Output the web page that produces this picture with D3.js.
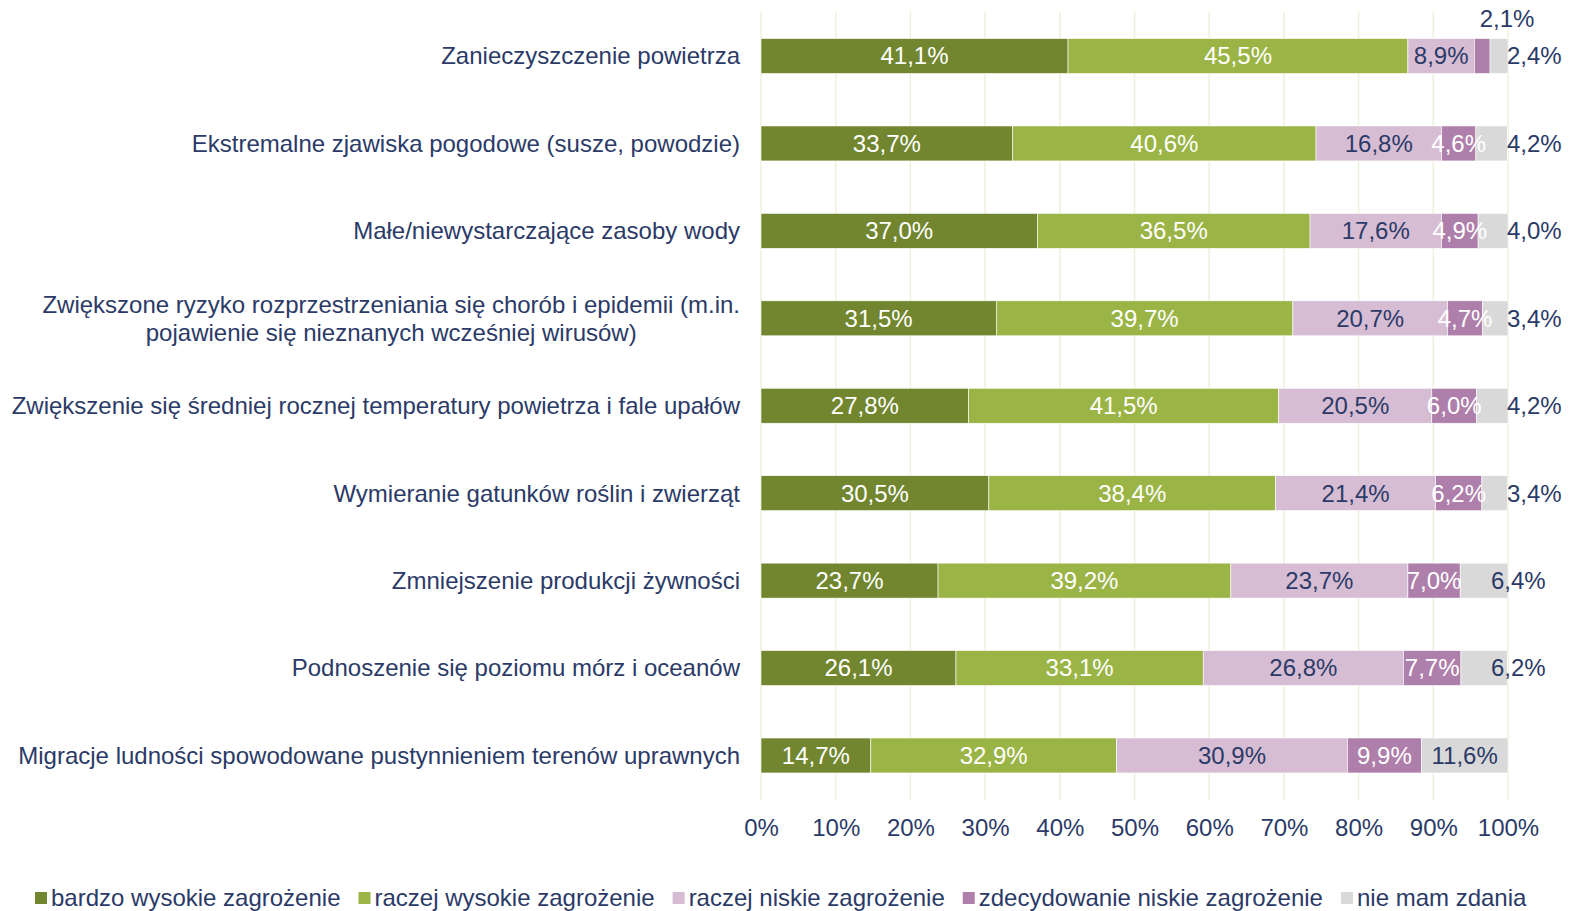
<!DOCTYPE html>
<html>
<head>
<meta charset="utf-8">
<script src="https://cdn.jsdelivr.net/npm/d3@7"></script>
<style>
  body { margin: 0; background: #fff; }
  svg text { font-family: "Liberation Sans", Arial, sans-serif; }
</style>
</head>
<body>
<div id="chart"></div>
<script>
// categories (top to bottom)
var categories = [
    ["Zanieczyszczenie powietrza"],
    ["Ekstremalne zjawiska pogodowe (susze, powodzie)"],
    ["Małe/niewystarczające zasoby wody"],
    ["Zwiększone ryzyko rozprzestrzeniania się chorób i epidemii (m.in.", "pojawienie się nieznanych wcześniej wirusów)"],
    ["Zwiększenie się średniej rocznej temperatury powietrza i fale upałów"],
    ["Wymieranie gatunków roślin i zwierząt"],
    ["Zmniejszenie produkcji żywności"],
    ["Podnoszenie się poziomu mórz i oceanów"],
    ["Migracje ludności spowodowane pustynnieniem terenów uprawnych"]
]

var seriesNames = ["bardzo wysokie zagrożenie", "raczej wysokie zagrożenie", "raczej niskie zagrożenie", "zdecydowanie niskie zagrożenie", "nie mam zdania"]

var bardzoWysokie = [41.1, 33.7, 37.0, 31.5, 27.8, 30.5, 23.7, 26.1, 14.7]
var raczejWysokie = [45.5, 40.6, 36.5, 39.7, 41.5, 38.4, 39.2, 33.1, 32.9]
var raczejNiskie = [8.9, 16.8, 17.6, 20.7, 20.5, 21.4, 23.7, 26.8, 30.9]
var zdecydowanieNiskie = [2.1, 4.6, 4.9, 4.7, 6.0, 6.2, 7.0, 7.7, 9.9]
var nieMamZdania = [2.4, 4.2, 4.0, 3.4, 4.2, 3.4, 6.4, 6.2, 11.6]

var tickValues = [0, 10, 20, 30, 40, 50, 60, 70, 80, 90, 100]

var colors = ["#71862f", "#9bb446", "#d6bdd4", "#ae7fab", "#d9d9d9"]
var labelColors = ["#ffffff", "#ffffff", "#2b3a67", "#ffffff", "#2b3a67"]
var navy = "#2b3a67"

var width = 1572, height = 911
var fontSize = 24

var svg = d3.select("#chart").append("svg")
    .attr("width", width)
    .attr("height", height)

var x = d3.scaleLinear().domain([0, 100]).range([761, 1508])
var y = d3.scaleBand()
    .domain(d3.range(categories.length))
    .range([12.3, 799.2])
    .paddingInner(0.6)
    .paddingOuter(0.3)

// gridlines
svg.append("g")
    .selectAll("line")
    .data(tickValues)
    .enter()
    .append("line")
    .attr("x1", d => x(d)).attr("x2", d => x(d))
    .attr("y1", 12).attr("y2", 800)
    .attr("stroke", "#eef0dc")
    .attr("stroke-width", 1.5)

// x axis labels
var xAxis = d3.axisBottom(x).tickValues(tickValues).tickSize(0).tickPadding(0)
    .tickFormat(d => d + "%")
var ax = svg.append("g").attr("transform", "translate(0,819)").call(xAxis)
ax.select(".domain").remove()
ax.selectAll("text")
    .attr("fill", navy)
    .style("font-size", fontSize + "px")
    .style("font-family", "'Liberation Sans', Arial, sans-serif")

// stack the series
var rows = categories.map(function(c, i) {
    return [bardzoWysokie[i], raczejWysokie[i], raczejNiskie[i], zdecydowanieNiskie[i], nieMamZdania[i]]
})

var segments = []
rows.forEach(function(vals, i) {
    var acc = 0
    vals.forEach(function(v, s) {
        segments.push({ row: i, series: s, value: v, x0: acc, x1: acc + v })
        acc += v
    })
})

svg.append("g")
    .selectAll("rect")
    .data(segments)
    .enter()
    .append("rect")
    .attr("x", d => x(d.x0))
    .attr("width", d => x(d.x1) - x(d.x0))
    .attr("y", d => y(d.row))
    .attr("height", y.bandwidth())
    .attr("fill", d => colors[d.series])
    .attr("stroke", "#ffffff")
    .attr("stroke-width", 0.6)

function fmt(v) { return v.toFixed(1).replace(".", ",") + "%" }

// data labels
svg.append("g")
    .selectAll("text")
    .data(segments)
    .enter()
    .append("text")
    .text(d => fmt(d.value))
    .attr("x", function(d) {
        if (d.series == 4 && d.value < 10) return d.value < 5 ? x(100) - 1 : x(100) - 17
        if (d.series == 3 && d.value < 3) return x(100) - 1
        return (x(d.x0) + x(d.x1)) / 2
    })
    .attr("y", function(d) {
        var cy = y(d.row) + y.bandwidth() / 2
        if (d.series == 3 && d.value < 3) return cy - 37
        return cy
    })
    .attr("dy", "0.35em")
    .attr("text-anchor", function(d) {
        if (d.series == 4 && d.value < 10) return "start"
        return "middle"
    })
    .attr("fill", function(d) {
        if (d.series == 4 && d.value < 10) return navy
        if (d.series == 3 && d.value < 3) return navy
        return labelColors[d.series]
    })
    .style("font-size", fontSize + "px")

// category labels
var catG = svg.append("g")
categories.forEach(function(lines, i) {
    var cy = y(i) + y.bandwidth() / 2
    if (lines.length == 1) {
        catG.append("text")
            .attr("x", 740).attr("y", cy).attr("dy", "0.35em")
            .attr("text-anchor", "end")
            .attr("fill", navy)
            .style("font-size", fontSize + "px")
            .text(lines[0])
    } else {
        var first = catG.append("text")
            .attr("x", 740).attr("y", cy - 14).attr("dy", "0.35em")
            .attr("text-anchor", "end")
            .attr("fill", navy)
            .style("font-size", fontSize + "px")
            .text(lines[0])
        var w = first.node().getComputedTextLength()
        catG.append("text")
            .attr("x", 740 - w / 2).attr("y", cy + 14).attr("dy", "0.35em")
            .attr("text-anchor", "middle")
            .attr("fill", navy)
            .style("font-size", fontSize + "px")
            .text(lines[1])
    }
})

// legend
var legend = svg.append("g")
var lx = 35
seriesNames.forEach(function(name, s) {
    legend.append("rect")
        .attr("x", lx).attr("y", 892)
        .attr("width", 12).attr("height", 12)
        .attr("fill", colors[s])
    var t = legend.append("text")
        .attr("x", lx + 16).attr("y", 906)
        .attr("fill", navy)
        .style("font-size", fontSize + "px")
        .text(name)
    lx += 16 + t.node().getComputedTextLength() + 18
})
</script>
</body>
</html>
